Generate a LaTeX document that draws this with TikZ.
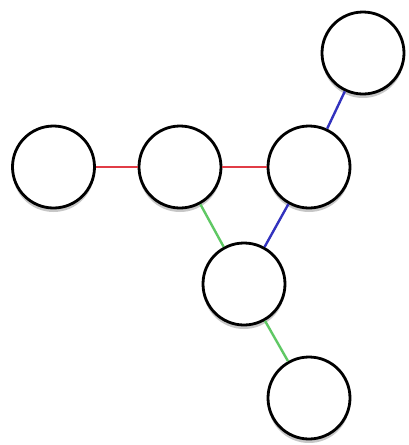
\documentclass[tikz,border=0pt]{standalone}
\usetikzlibrary{shadows}
\definecolor{ered}{RGB}{225,60,70}
\definecolor{eblue}{RGB}{50,50,190}
\definecolor{egreen}{RGB}{95,200,100}
\begin{document}
\begin{tikzpicture}[x=1pt,y=-1pt,
  vtx/.style={circle,draw=black,line width=2.8pt,fill=white,minimum size=82pt,inner sep=0pt,
    drop shadow={shadow xshift=0pt,shadow yshift=-4pt,opacity=0.22,fill=black}},
  edge/.style={line width=2.4pt}]
\useasboundingbox[fill=white] (0,0) rectangle (408,445);
\node[vtx] (a) at (53.5,167) {};
\node[vtx] (b) at (180,167) {};
\node[vtx] (c) at (309,167) {};
\node[vtx] (d) at (363,53) {};
\node[vtx] (e) at (244,284) {};
\node[vtx] (f) at (309,398) {};
\draw[edge,ered] (a) -- (b);
\draw[edge,ered] (b) -- (c);
\draw[edge,eblue] (c) -- (d);
\draw[edge,eblue] (c) -- (e);
\draw[edge,egreen] (b) -- (e);
\draw[edge,egreen] (e) -- (f);
\end{tikzpicture}
\end{document}
